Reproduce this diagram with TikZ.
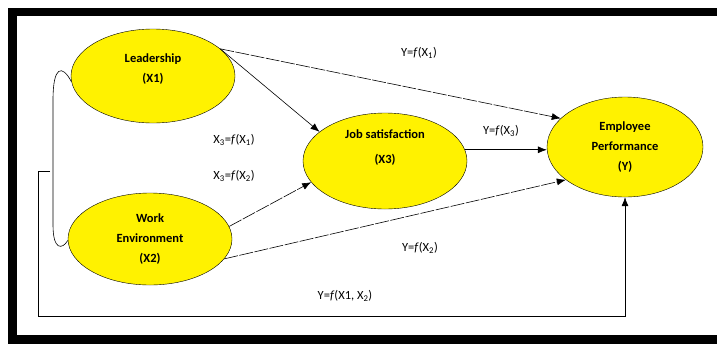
\documentclass[tikz,border=0pt]{standalone}
\usepackage{fontspec}
\setmainfont{Carlito}
\usetikzlibrary{shapes.geometric,arrows.meta,positioning}

\begin{document}
\begin{tikzpicture}[x=1pt,y=-1pt,
   >={Latex[length=9pt,width=7pt]},
   elipse/.style={ellipse,draw,fill=yellow,inner sep=0pt,minimum width=164pt,minimum height=94pt},
   texto/.style={font=\fontsize{12.5}{20}\selectfont\bfseries,align=center},
   etiq/.style={font=\fontsize{12.5}{14}\selectfont},
   flecha/.style={->,line width=0.6pt},
   rota/.style={dash pattern=on 14pt off 1.5pt}]
%% Frame
  \useasboundingbox (0,0) rectangle (717,343);
  \draw[line width=8.5pt] (12.5,12) rectangle (740,339.5);

%% Variables
  \node [elipse,label={[texto,yshift=7pt]center:{Leadership\\(X1)}}] (leader) at (153,76) {};
  \node [elipse,minimum height=92pt,label={[texto]center:{Work\\Environment\\(X2)}}] (environ) at (150,239) {};
  \node [elipse,minimum height=96pt,label={[texto,yshift=13pt]center:{Job satisfaction\\[5pt](X3)}}] (satisf) at (385,161) {};
  \node [elipse,minimum width=156pt,minimum height=100pt,label={[texto]center:{Employee\\Performance\\(Y)}}] (perform) at (625,147) {};

%% Paths
  \draw[flecha] (leader.22) -- (satisf.156);
  \draw[flecha,rota] (leader.22) -- (perform.156);
  \draw[flecha,rota] (environ.9) -- (satisf.196);
  \draw[flecha,rota] (environ.345) -- (perform.209);
  \draw[flecha] (satisf.8) -- (satisf.8 -| perform.west);
  \coordinate (esq) at (50,171);
  \draw[flecha] (esq) -- (38,171) -- (38,316) -| (perform.south);
  % correlation X1 - X2
  \draw[line width=0.6pt] (leader.184) .. controls (62,64) and (53,66) .. (53,100) -- (53,225) .. controls (53,250) and (62,250) .. (environ.181);

%% Equations
  \node [etiq] (fyx1) at (419,53) {Y=\textit{f}(X\textsubscript{1})};
  \node [etiq] (fyx3) at (501,131) {Y=\textit{f}(X\textsubscript{3})};
  \node [etiq] (fx3x1) at (234,140) {X\textsubscript{3}=\textit{f}(X\textsubscript{1})};
  \node [etiq] (fx3x2) at (234,176) {X\textsubscript{3}=\textit{f}(X\textsubscript{2})};
  \node [etiq] (fyx2) at (420,248) {Y=\textit{f}(X\textsubscript{2})};
  \node [etiq] (fyx12) at (345,296) {Y=\textit{f}(X1, X\textsubscript{2})};
\end{tikzpicture}
\end{document}
